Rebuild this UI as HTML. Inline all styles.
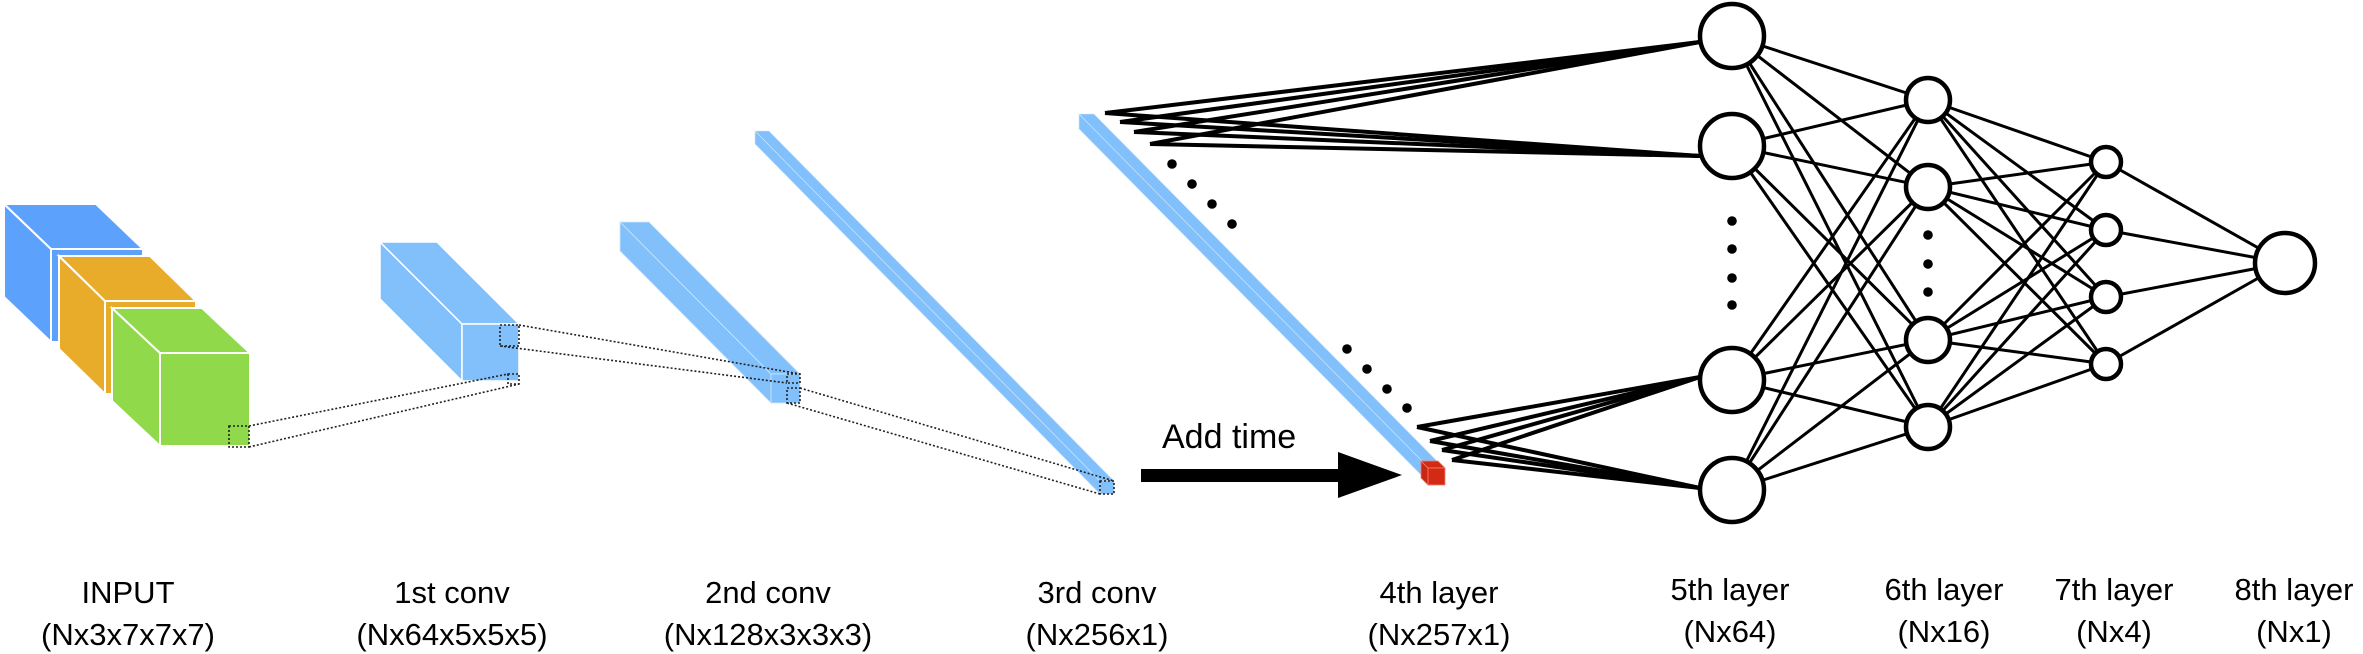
<!DOCTYPE html>
<html><head><meta charset="utf-8"><style>
html,body{margin:0;padding:0;background:#fff;}
svg{display:block;}
text{font-family:"Liberation Sans",sans-serif;fill:#000;}
</style></head><body>
<svg id="fig" width="2363" height="654" viewBox="0 0 2363 654" xmlns="http://www.w3.org/2000/svg">
<g id="blocks"></g>
<g id="dotted" fill="none" stroke="#222" stroke-width="1.6" stroke-dasharray="2,2">
  <rect x="229" y="426" width="20" height="21"/>
  <line x1="249" y1="426" x2="508" y2="374"/>
  <line x1="249" y1="447" x2="519" y2="384"/>
  <rect x="500" y="325" width="19" height="21"/>
  <rect x="508" y="374" width="11" height="10"/>
  <line x1="519" y1="325" x2="800" y2="374"/>
  <line x1="500" y1="346" x2="787" y2="383"/>
  <rect x="787" y="374" width="13" height="9"/>
  <rect x="787" y="388" width="13" height="15"/>
  <line x1="800" y1="388" x2="1114" y2="481"/>
  <line x1="787" y1="403" x2="1100" y2="494"/>
  <rect x="1100" y="481" width="14" height="13"/>
</g>
<g id="net"></g>
<g>
  <rect x="1141" y="469" width="199" height="13" fill="#000"/>
  <polygon points="1338,452 1338,498 1402,475" fill="#000"/>
  <text x="1162" y="448" font-size="34">Add time</text>
</g>
<g id="labels" font-size="31" text-anchor="middle"></g>
</svg>
<script>
const NS="http://www.w3.org/2000/svg";
// layer sizes (labels)
const labelTitles=["INPUT","1st conv","2nd conv","3rd conv","4th layer","5th layer","6th layer","7th layer","8th layer"];
const labelShapes=["(Nx3x7x7x7)","(Nx64x5x5x5)","(Nx128x3x3x3)","(Nx256x1)","(Nx257x1)","(Nx64)","(Nx16)","(Nx4)","(Nx1)"];
const labelX=[128,452,768,1097,1439,1730,1944,2114,2294];
// dense layers: node vertical positions
const layer5Y=[36,146,380,490];
const layer6Y=[100,187,340,427];
const layer7Y=[162,230,297,364];
const layer8Y=[263];

function el(tag,attrs,parent){const e=document.createElementNS(NS,tag);for(const k in attrs)e.setAttribute(k,attrs[k]);parent.appendChild(e);return e;}

// blocks
const B=document.getElementById('blocks');
function box(fx,fy,w,h,dx,dy,top,side,front,name,sw,edge){
  const g=el('g',{},B);
  
  
  el('polygon',{points:`${fx},${fy} ${fx+dx},${fy+dy} ${fx+dx},${fy+dy+h} ${fx},${fy+h}`,fill:side,stroke:edge,'stroke-width':sw},g);
  el('polygon',{points:`${fx},${fy} ${fx+w},${fy} ${fx+w+dx},${fy+dy} ${fx+dx},${fy+dy}`,fill:top,stroke:edge,'stroke-width':sw},g);
  el('rect',{x:fx,y:fy,width:w,height:h,fill:front,stroke:edge,'stroke-width':sw},g);
}
box(51,249,92,93,-47,-45,'#5CA2FD','#5CA2FD','#5CA2FD','input-cube-blue',2,'#fff');
box(105,301,91,93,-46,-45,'#E8AB2A','#E8AB2A','#E8AB2A','input-cube-orange',2,'#fff');
box(160,353,90,93,-48,-45,'#8FD94B','#8FD94B','#8FD94B','input-cube-green',2,'#fff');
box(462,324,57,57,-82,-82,'#82C0FB','#82C0FB','#82C0FB','conv1-block',1.5,'#fff');
box(771,374,29,29,-151,-152,'#82C0FB','#82C0FB','#82C0FB','conv2-block',0.8,'#cfe6fd');
box(1100,481,14,13,-345,-350,'#82C0FB','#82C0FB','#82C0FB','conv3-block',0.6,'#cfe6fd');
box(1424,463,15,15,-345,-349,'#82C0FB','#82C0FB','#82C0FB','layer4-block',0.6,'#cfe6fd');
box(1428,468,17,17,-7,-7,'#D42A14','#C92713','#D42A14','time-cube',0.8,'#f08070');

// network
const N=document.getElementById('net');
const X5=1732,X6=1928,X7=2106,X8=2285,R5=32,R6=22,R7=15,R8=30;
function line(x1,y1,x2,y2,w){const l=el('line',{x1,y1,x2,y2,stroke:'#000','stroke-width':w},N);

}
const topOrig=[[1105,113],[1120,122],[1134,132],[1150,144]];
const botOrig=[[1417,427],[1430,441],[1442,450],[1452,460]];
topOrig.forEach(o=>{line(o[0],o[1],X5-R5,layer5Y[0]+6,4);line(o[0],o[1],X5-R5,layer5Y[1]+10,4);});
botOrig.forEach(o=>{line(o[0],o[1],X5-R5,layer5Y[2]-3,4);line(o[0],o[1],X5-R5,layer5Y[3]-2,4);});
layer5Y.forEach(a=>layer6Y.forEach(b=>line(X5,a,X6,b,3)));
layer6Y.forEach(a=>layer7Y.forEach(b=>line(X6,a,X7,b,3)));
layer7Y.forEach(a=>layer8Y.forEach(b=>line(X7,a,X8,b,3)));
function nodes(x,ys,r,name){ys.forEach(y=>{const c=el('circle',{cx:x,cy:y,r:r,fill:'#fff',stroke:'#000','stroke-width':4.5},N);

});}
nodes(X5,layer5Y,R5,'layer5-node');nodes(X6,layer6Y,R6,'layer6-node');nodes(X7,layer7Y,R7,'layer7-node');nodes(X8,layer8Y,R8,'layer8-node');
function dots(pts,r){pts.forEach(p=>{const c=el('circle',{cx:p[0],cy:p[1],r:r,fill:'#000'},N);

});}
dots([[1172,164],[1192,184],[1212,204],[1232,224],[1347,349],[1367,369],[1387,389],[1407,408]],4.8);
dots([[X5,221],[X5,249],[X5,278],[X5,305],[X6,235],[X6,264],[X6,292]],4.8);

// labels
const L=document.getElementById('labels');
labelTitles.forEach((t,i)=>{
  const a=el('text',{x:labelX[i],y:i>=5?600:603},L);a.textContent=t;
  
  
  const b=el('text',{x:labelX[i],y:i>=5?642:645},L);b.textContent=labelShapes[i];
  
  
});
</script>
</body></html>
